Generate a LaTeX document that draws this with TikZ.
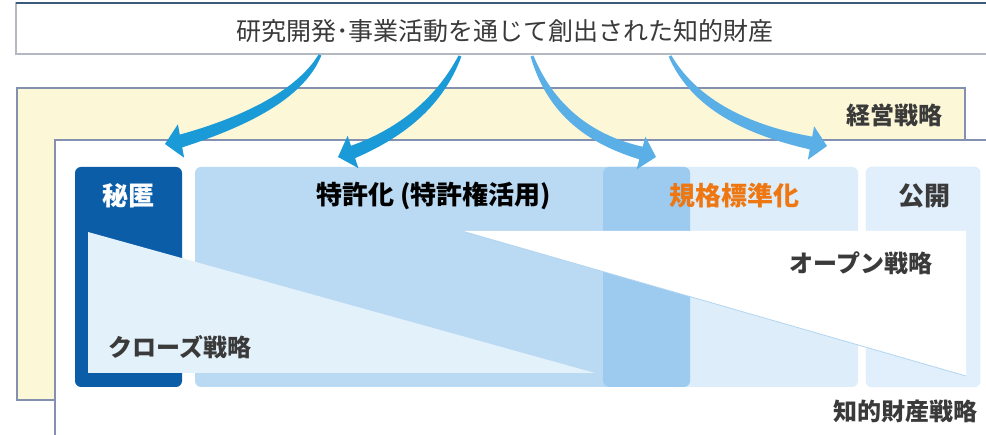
\documentclass[tikz,border=0pt]{standalone}
\usepackage{fontspec}
\setmainfont{Noto Sans CJK JP}
\usetikzlibrary{calc}

\definecolor{framegray}{HTML}{B4B8C0}
\definecolor{framenavy}{HTML}{3A5A7C}
\definecolor{framebluegray}{HTML}{8390B0}
\definecolor{mgmtyellow}{HTML}{FCF7D6}
\definecolor{hitokublue}{HTML}{0B5DA8}
\definecolor{tokkyoblue}{HTML}{BAD9F2}
\definecolor{overlapblue}{HTML}{9DCBEF}
\definecolor{kikakublue}{HTML}{DDEEFA}
\definecolor{kokaiblue}{HTML}{E0EFFB}
\definecolor{closedblue}{HTML}{E3F1FB}
\definecolor{arrowdark}{HTML}{1A9AD6}
\definecolor{arrowlight}{HTML}{5AB0E6}
\definecolor{textgray}{HTML}{3A3A3A}
\definecolor{stdorange}{HTML}{EE7712}

\tikzset{
  lbl/.style={inner sep=0pt, text=textgray, font=\bfseries\fontsize{24}{24}\selectfont},
  title/.style={lbl, font=\bfseries\fontsize{26}{26}\selectfont},
  field/.style={rounded corners=6pt},
}

% 先細りの曲がった矢印: 色, 始点, 制御点, 矢じりの付け根, 先端
\newcommand{\flowarrow}[5]{%
  \path ($(#2)!0.67!(#3)$) coordinate (fa1) ($(#4)!0.67!(#3)$) coordinate (fa2);
  \fill[#1] ($(#2)!1.5pt!90:(#3)$)
    .. controls ($(fa1)!5pt!90:(fa2)$) and ($(fa2)!5pt!-90:(fa1)$) .. ($(#4)!6.5pt!90:(#5)$)
    -- ($(#4)!17pt!90:(#5)$) -- (#5) -- ($(#4)!17pt!-90:(#5)$)
    -- ($(#4)!6.5pt!-90:(#5)$)
    .. controls ($(fa2)!5pt!90:(fa1)$) and ($(fa1)!5pt!-90:(fa2)$) .. ($(#2)!1.5pt!-90:(#3)$) -- cycle;}

\begin{document}
\begin{tikzpicture}[x=1pt, y=-1pt]
  \useasboundingbox (0,0) rectangle (986,435);

  % 経営戦略
  \draw[framebluegray, fill=mgmtyellow, line width=1.2pt] (17,88) rectangle (965,400);
  \node[lbl] (mgmt) at (894,115) {経営戦略};

  % 知的財産戦略
  \draw[framebluegray, fill=white, line width=1.2pt] (55,140) rectangle (1000,450);
  \node[lbl] (ipstrat) at (905,411) {知的財産戦略};

  % 各領域
  \fill[field, hitokublue] (75,167) rectangle (182,387);
  \fill[field, tokkyoblue] (195,167) rectangle (690,387);
  \fill[field, kikakublue] (603,167) rectangle (858,387);
  \fill[field, overlapblue] (603,167) rectangle (690,387);
  \draw[field, kikakublue!80!tokkyoblue, fill=kokaiblue] (866,167) rectangle (980,387);

  % クローズ戦略 / オープン戦略
  \fill[closedblue] (88,232) -- (88,373) -- (595,373) -- cycle;
  \fill[white] (462,231) -- (966,231) -- (966,376) -- cycle;
  \draw[tokkyoblue!70!overlapblue, line width=0.8pt] (462,231) -- (966,376);

  \node[lbl, text=white, font=\bfseries\fontsize{26}{26}\selectfont] (hitoku) at (128,196) {秘匿};
  \node[title, text=black] (tokkyo) at (434,196) {特許化 (特許権活用)};
  \node[title, text=stdorange] (kikaku) at (734,196) {規格標準化};
  \node[title] (kokai) at (924,196) {公開};
  \node[lbl] (closed) at (180,347) {クローズ戦略};
  \node[lbl] (open) at (861,263) {オープン戦略};

  % 知的財産
  \draw[framegray, fill=white, line width=1.2pt] (16,54) -- (16,3) -- (1000,3) -- (1000,54) -- cycle;
  \draw[framenavy, line width=1.6pt] (16,3) -- (1000,3);
  \node[inner sep=0pt, text=textgray, font=\fontsize{25}{25}\selectfont] (src) at (505,31)
    {研究開発･事業活動を通じて創出された知的財産};

  % 矢印
  \coordinate (s1) at (320,55); \coordinate (c1) at (294,107);
  \coordinate (h1) at (181,141); \coordinate (t1) at (165,144);
  \coordinate (s2) at (460,56); \coordinate (c2) at (431,121);
  \coordinate (h2) at (353,152); \coordinate (t2) at (338,157);
  \coordinate (s3) at (532,56); \coordinate (c3) at (558,131);
  \coordinate (h3) at (641,153); \coordinate (t3) at (656,157);
  \coordinate (s4) at (670,56); \coordinate (c4) at (703,121);
  \coordinate (h4) at (811,143); \coordinate (t4) at (827,146);
  \flowarrow{arrowdark}{s1}{c1}{h1}{t1}
  \flowarrow{arrowdark}{s2}{c2}{h2}{t2}
  \flowarrow{arrowlight}{s3}{c3}{h3}{t3}
  \flowarrow{arrowlight}{s4}{c4}{h4}{t4}
\end{tikzpicture}
\end{document}
